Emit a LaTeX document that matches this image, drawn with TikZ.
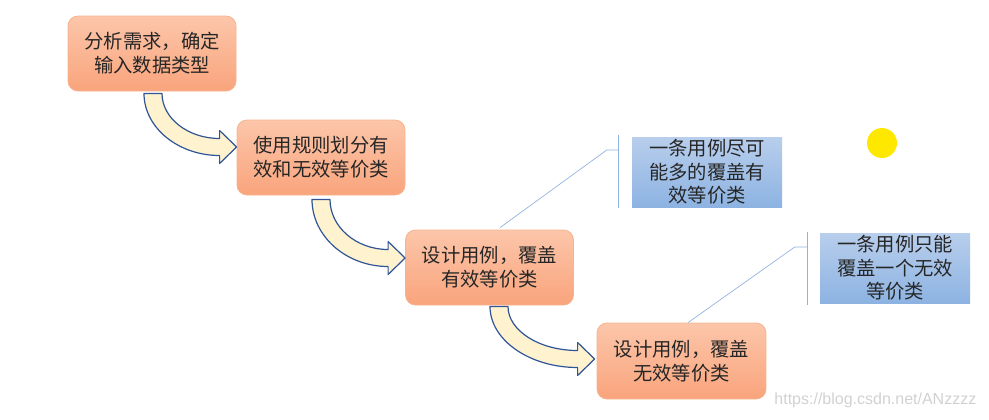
\documentclass[tikz,border=0pt]{standalone}
\usepackage{fontspec}
\usepackage{tikz}
\usetikzlibrary{calc}
\newfontfamily\cjk{Noto Sans CJK SC}
\newfontfamily\wmfont{Liberation Sans}

\definecolor{boxtop}{RGB}{252,198,170}
\definecolor{boxbot}{RGB}{249,164,124}
\definecolor{boxline}{RGB}{246,180,142}
\definecolor{notetop}{RGB}{184,206,236}
\definecolor{notebot}{RGB}{141,179,226}
\definecolor{calloutline}{RGB}{143,178,222}
\definecolor{arrowfill}{RGB}{255,242,206}
\definecolor{arrowline}{RGB}{47,85,151}
\definecolor{sun}{RGB}{255,232,0}

\tikzset{
  stepbox/.style={rounded corners=7.5pt, top color=boxtop, bottom color=boxbot, draw=boxline, line width=0.6pt,
    minimum width=126pt, minimum height=56.25pt, inner sep=0pt, align=center, text=black!85,
    font=\cjk\fontsize{14.5}{18}\selectfont},
  notebox/.style={top color=notetop, bottom color=notebot, minimum width=112.5pt, minimum height=52.5pt,
    inner sep=0pt, align=center, text=black!85, font=\cjk\fontsize{14.5}{17.6}\selectfont},
  callout/.style={draw=calloutline, line width=0.5pt},
  bendarrow/.style={draw=arrowline, fill=arrowfill, line width=0.9pt, line join=round}
}

% bent block arrow: #1 top left of the shaft, #2 tip
\newcommand{\bentarrow}[2]{%
  \coordinate (ao) at (#1);
  \coordinate (ai) at ($(#1)+(18,0)$);
  \coordinate (bi) at ($(#2)+(-17,-8.5)$);
  \coordinate (bo) at ($(#2)+(-17,8.5)$);
  \coordinate (ki) at (ai |- bi);
  \coordinate (ko) at (ao |- bo);
  \draw[bendarrow] (ao) -- (ai) .. controls ($(ai)!0.55!(ki)$) and ($(bi)!0.55!(ki)$) .. (bi)
    -- ($(#2)+(-17,-16.5)$) -- (#2) -- ($(#2)+(-17,16.5)$) -- (bo)
    .. controls ($(bo)!0.55!(ko)$) and ($(ao)!0.55!(ko)$) .. (ao) -- cycle;
}

\begin{document}
\begin{tikzpicture}[x=0.75pt,y=0.75pt,yscale=-1]
  \useasboundingbox (0,0) rectangle (989,419);

  %Shape: Rounded Rect (steps)
  \node[stepbox] (analyse) at (152,53.5) {分析需求，确定\\输入数据类型};
  \node[stepbox] (divide) at (321,157.5) {使用规则划分有\\效和无效等价类};
  \node[stepbox] (validcase) at (489.5,267.5) {设计用例，覆盖\\有效等价类};
  \node[stepbox, minimum width=126.75pt, minimum height=57pt] (invalidcase) at (681.5,361) {设计用例，覆盖\\无效等价类};

  %Shape: Rectangle (notes)
  \node[notebox] (validnote) at (707,172) {一条用例尽可\\能多的覆盖有\\效等价类};
  \node[notebox] (invalidnote) at (895,268) {一条用例只能\\覆盖一个无效\\等价类};

  %Shape: Bent Arrows
  \bentarrow{$(analyse.south)+(-8,2)$}{$(divide.west)+(0,-10.5)$}
  \bentarrow{$(divide.south)+(-9,4)$}{$(validcase.west)+(0,-9.5)$}
  \bentarrow{$(validcase.south)+(0.5,1)$}{$(invalidcase.west)+(-2,-2)$}

  %Straight Lines (callouts)
  \coordinate (validfoot) at ($(validcase.north)+(10.5,-2)$);
  \coordinate (validbend) at ($(validnote.west)+(-25,-22)$);
  \coordinate (validbar) at ($(validnote.west)+(-13,-22)$);
  \draw[callout] (validfoot) -- (validbend) -- (validbar);
  \draw[callout] ($(validnote.north west)+(-13,-2)$) -- ($(validnote.south west)+(-13,1)$);

  \coordinate (invalidfoot) at ($(invalidcase.north)+(6.5,0)$);
  \coordinate (invalidbend) at ($(invalidnote.west)+(-25,-21)$);
  \coordinate (invalidbar) at ($(invalidnote.west)+(-12,-21)$);
  \draw[callout] (invalidfoot) -- (invalidbend) -- (invalidbar);
  \draw[callout] ($(invalidnote.north west)+(-12,-1)$) -- ($(invalidnote.south west)+(-12,2)$);

  %Shape: Circle
  \fill[sun] (882,143) circle [radius=15];

  % Text Node
  \node[font=\wmfont\fontsize{12}{14}\selectfont, text=black!18, anchor=east] (mark) at (981,400) {https://blog.csdn.net/ANzzzz};
\end{tikzpicture}
\end{document}
